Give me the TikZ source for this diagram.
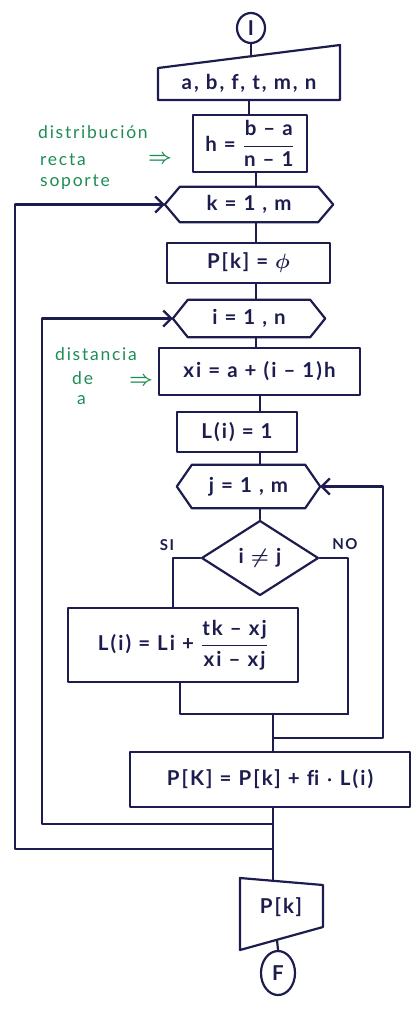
\documentclass[tikz,border=0pt]{standalone}
\usepackage{fontspec}
\setmainfont{Lato}
\newfontfamily\handfont[LetterSpace=10]{Lato}
\usetikzlibrary{shapes.geometric,arrows.meta,calc}
\definecolor{ink}{RGB}{28,28,78}
\definecolor{note}{RGB}{30,140,85}
\begin{document}
\begin{tikzpicture}[x=1pt,y=-1pt,
  line/.style={draw=ink, line width=2.2pt, line join=round, line cap=round},
  txt/.style={text=ink, font=\handfont\bfseries\boldmath\fontsize{20.5}{22}\selectfont},
  box/.style={line, txt, rectangle, inner sep=0pt},
  ghost/.style={txt, rectangle, inner sep=0pt},
  term/.style={line, txt, ellipse, inner sep=0pt},
  decis/.style={line, txt, diamond, inner sep=0pt},
  loopin/.style={line, -{Straight Barb[length=8pt,width=16pt,line width=2.2pt]}},
  notetext/.style={text=note, font=\handfont\fontsize{17.5}{19}\selectfont, inner sep=0pt, anchor=west},
  notearrow/.style={text=note, font=\boldmath\fontsize{20}{22}\selectfont, inner sep=0pt},
  lab/.style={text=ink, font=\handfont\bfseries\fontsize{15}{17}\selectfont, inner sep=0pt}
]
\useasboundingbox (0,0) rectangle (413,1012);
\newcommand\hexout[1]{\draw[line] (#1.west) -- ($(#1.north west)+(15,0)$) -- ($(#1.north east)+(-15,0)$) -- (#1.east) -- ($(#1.south east)+(-15,0)$) -- ($(#1.south west)+(15,0)$) -- cycle;}

% columns
\coordinate (cA) at (249,0);
\coordinate (cB) at (256,0);
\coordinate (cC) at (260,0);
\coordinate (cD) at (273,0);
\coordinate (cSI) at (173,0);
\coordinate (cL) at (180,0);
\coordinate (jR) at (383,0);
\coordinate (iL) at (42,0);
\coordinate (kL) at (15,0);

% start
\node[term, minimum width=28pt, minimum height=30pt] (start) at (251,28) {I};

% input
\node[ghost, minimum width=182pt, minimum height=34pt] (inp) at (249,83) {a, b, f, t, m, n};
\draw[line] (158,100) -- (340,100) -- (340,45) -- (158,68) -- cycle;
\coordinate (inptop) at (251,56.5);

% h box
\node[box, minimum width=114pt, minimum height=57pt] (h) at (250,143.5) {h = $\displaystyle\frac{\mbox{b – a}}{\mbox{n – 1}}$};

% k loop
\node[ghost, minimum width=168pt, minimum height=35pt] (k) at (249,204.5) {k = 1 , m};
\hexout{k}

% P[k]=0
\node[box, minimum width=163pt, minimum height=40pt] (p0) at (248.5,263) {P[k] = $\phi$};

% i loop
\node[ghost, minimum width=152pt, minimum height=37pt] (i) at (249,318.5) {i = 1 , n};
\hexout{i}

% xi
\node[box, minimum width=201pt, minimum height=47pt] (xi) at (259.5,371.5) {xi = a + (i – 1)h};

% L(i)=1
\node[box, minimum width=120pt, minimum height=40pt] (li) at (237,432) {L(i) = 1};

% j loop
\node[ghost, minimum width=143pt, minimum height=43pt] (j) at (248.5,486.5) {j = 1 , m};
\hexout{j}

% decision
\node[decis, minimum width=117pt, minimum height=75pt] (d) at (260,558) {i $\neq$ j};
\node[lab] (si) at (167,545) {SI};
\node[lab] (no) at (345,544) {NO};

% L formula
\node[box, minimum width=230pt, minimum height=74pt] (L) at (183,645) {L(i) = Li + $\displaystyle\frac{\mbox{tk – xj}}{\mbox{xi – xj}}$};

% P sum
\node[box, minimum width=280pt, minimum height=55pt] (ps) at (270,779.5) {P[K] = P[k] + f\kern0pt i $\cdot$ L(i)};

% output
\node[ghost, minimum width=83pt, minimum height=60pt] (out) at (281,907) {P[k]};
\draw[line] (240,878) -- (323,885) -- (323,927) -- (240,950) -- cycle;
\coordinate (outtop) at (273,881);
\coordinate (outbot) at (277,940);

% end
\node[term, minimum width=34pt, minimum height=44pt] (end) at (278,973) {F};

% notes
\node[notetext] (n1) at (38,132) {distribución};
\node[notetext] (n2) at (40,160) {recta};
\node[notearrow] (n3) at (160,159) {$\Rightarrow$};
\node[notetext] (n4) at (40,182) {soporte};
\node[notetext] (n5) at (55,354) {distancia};
\node[notetext] (n6) at (72,378) {de};
\node[notearrow] (n7) at (141,381) {$\Rightarrow$};
\node[notetext] (n8) at (77,400) {a};

% connectors
\draw[line] (start.south) -- (inptop);
\draw[line] (inp.south -| cA) -- (h.north -| cA);
\draw[line] (h.south -| cB) -- (k.north -| cB);
\draw[line] (k.south -| cB) -- (p0.north -| cB);
\draw[line] (p0.south -| cB) -- (i.north -| cB);
\draw[line] (i.south -| cB) -- (xi.north -| cB);
\draw[line] (xi.south -| cC) -- (li.north -| cC);
\draw[line] (li.south -| cC) -- (j.north -| cC);
\draw[line] (j.south -| cC) -- (d.north);
\draw[line] (d.west) -| (L.north -| cSI);
\coordinate (mR) at (348,714);
\draw[line] (d.east) -| (mR);
\draw[line] (L.south -| cL) |- (mR);
\draw[line] (cD |- mR) -- (ps.north -| cD);
\coordinate (jl) at (273,738);
\draw[loopin] (jl) -| (jR |- j.east) -- (j.east);
\draw[line] (ps.south -| cD) -- (outtop);
\coordinate (il) at (273,824);
\draw[loopin] (il) -| (iL |- i.west) -- (i.west);
\coordinate (kl) at (273,849);
\draw[loopin] (kl) -| (kL |- k.west) -- (k.west);
\draw[line] (outbot) -- (end.north);
\end{tikzpicture}
\end{document}
